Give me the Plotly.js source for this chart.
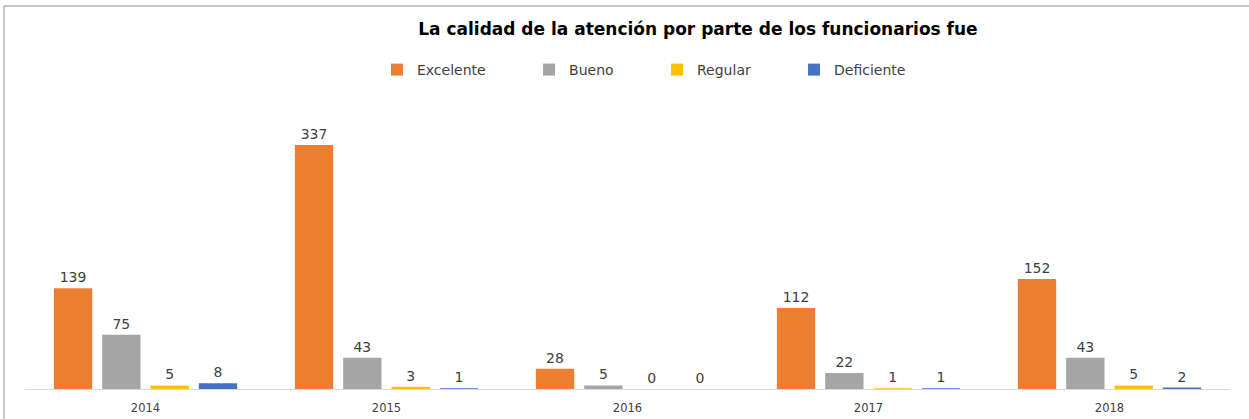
<!DOCTYPE html>
<html>
<head>
<meta charset="utf-8">
<script src="https://cdn.plot.ly/plotly-3.0.1.min.js"></script>
<style>html,body{margin:0;padding:0;background:#fff;}#chart{width:1249px;height:419px;}</style>
</head>
<body>
<div id="chart"></div>
<script>
const years = ['2014', '2015', '2016', '2017', '2018'];
const excelente = [139, 337, 28, 112, 152];
const bueno = [75, 43, 5, 22, 43];
const regular = [5, 3, 0, 1, 5];
const deficiente = [8, 1, 0, 1, 2];
const seriesNames = ['Excelente', 'Bueno', 'Regular', 'Deficiente'];
const seriesColors = ['#ED7D31', '#A5A5A5', '#FFC000', '#4472C4'];
const seriesValues = [excelente, bueno, regular, deficiente];
const legendIds = ['legend', 'legend2', 'legend3', 'legend4'];
const legendX = [0.2921, 0.4183, 0.5245, 0.6382];

const traces = seriesValues.map((vals, i) => ({
  type: 'bar',
  name: seriesNames[i],
  x: years,
  y: vals,
  marker: {color: seriesColors[i]},
  text: vals.map(String),
  textposition: 'outside',
  constraintext: 'none',
  cliponaxis: false,
  textfont: {family: 'DejaVu Sans', size: 14, color: '#404040'},
  legend: legendIds[i],
  hoverinfo: 'x+y+name'
}));

const layout = {
  width: 1249,
  height: 419,
  margin: {l: 25, r: 19, t: 100, b: 30},
  paper_bgcolor: '#ffffff',
  plot_bgcolor: '#ffffff',
  font: {family: 'DejaVu Sans', color: '#404040'},
  title: {
    text: 'La calidad de la atención por parte de los funcionarios fue',
    font: {family: 'DejaVu Sans', size: 17, color: '#000000', weight: 'bold'},
    x: 0.5588, xref: 'container', xanchor: 'center',
    y: 0.9308, yref: 'container', yanchor: 'middle'
  },
  barmode: 'group',
  bargap: 0.198,
  bargroupgap: 0.207,
  xaxis: {
    type: 'category',
    showgrid: false,
    zeroline: false,
    showline: true,
    linecolor: '#D9D9D9',
    linewidth: 1,
    ticks: '',
    ticklabelstandoff: 8,
    tickfont: {family: 'DejaVu Sans', size: 11.5, color: '#404040'}
  },
  yaxis: {
    range: [0, 399],
    showgrid: false,
    zeroline: false,
    showline: false,
    showticklabels: false,
    ticks: ''
  },
  showlegend: true,
  shapes: [{
    type: 'path',
    xref: 'paper', yref: 'paper',
    path: 'M -0.0174 -0.2 L -0.0174 1.3253 L 1.03 1.3253',
    line: {color: '#8F8F8F', width: 1}
  }]
};
legendIds.forEach((id, i) => {
  layout[id] = {
    x: legendX[i], xanchor: 'left',
    y: 1.1038, yanchor: 'middle',
    orientation: 'h',
    bgcolor: 'rgba(0,0,0,0)',
    font: {family: 'DejaVu Sans', size: 14, color: '#404040'}
  };
});

Plotly.newPlot('chart', traces, layout, {displayModeBar: false, staticPlot: true});
</script>
</body>
</html>
